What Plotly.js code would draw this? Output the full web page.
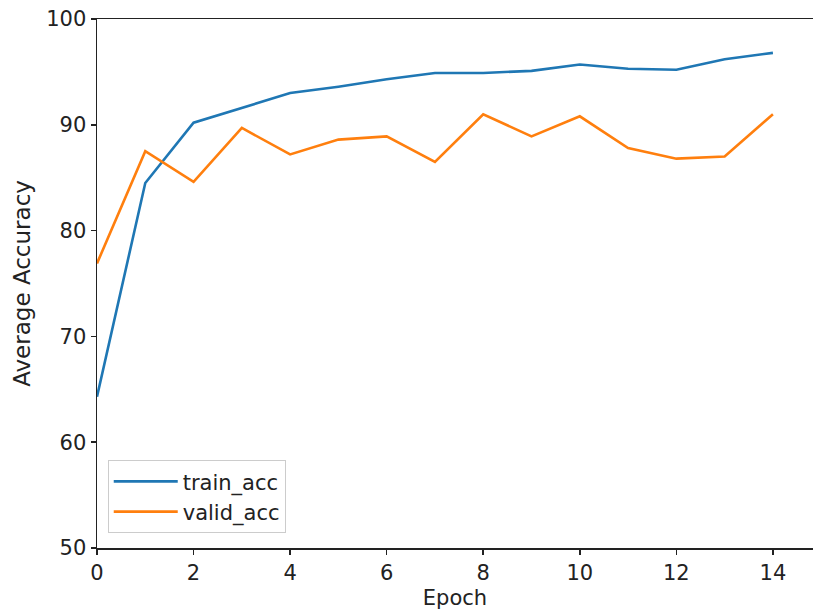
<!DOCTYPE html>
<html>
<head>
<meta charset="utf-8">
<script src="https://cdn.plot.ly/plotly-3.0.1.min.js"></script>
<style>
  html, body { margin: 0; padding: 0; background: #fff; }
  #chart { width: 813px; height: 612px; }
</style>
</head>
<body>
<div id="chart"></div>
<script>
// Per-epoch accuracy (%) for training and validation
const epochs = [0, 1, 2, 3, 4, 5, 6, 7, 8, 9, 10, 11, 12, 13, 14];
const trainAcc = [64.3, 84.5, 90.2, 91.6, 93.0, 93.6, 94.3, 94.9, 94.9, 95.1, 95.7, 95.3, 95.2, 96.2, 96.8];
const validAcc = [76.9, 87.5, 84.6, 89.7, 87.2, 88.6, 88.9, 86.5, 91.0, 88.9, 90.8, 87.8, 86.8, 87.0, 91.0];
const xTicks = [0, 2, 4, 6, 8, 10, 12, 14];
const yTicks = [50, 60, 70, 80, 90, 100];

const font = { family: 'DejaVu Sans, sans-serif', size: 21, color: '#222' };

const traces = [
  {
    x: epochs, y: trainAcc, name: 'train_acc', type: 'scatter', mode: 'lines',
    line: { color: '#1f77b4', width: 2.6 }
  },
  {
    x: epochs, y: validAcc, name: 'valid_acc', type: 'scatter', mode: 'lines',
    line: { color: '#ff7f0e', width: 2.6 }
  }
];

const layout = {
  width: 813, height: 612,
  margin: { l: 97, r: 0, t: 19, b: 64 },
  paper_bgcolor: '#fff', plot_bgcolor: '#fff',
  font: font,
  showlegend: true,
  legend: {
    x: 0.015, y: 0.166, xanchor: 'left', yanchor: 'top',
    bgcolor: 'rgba(255,255,255,0.8)', bordercolor: '#cccccc', borderwidth: 1,
    font: font, itemwidth: 64, tracegroupgap: 0
  },
  xaxis: {
    range: [0, 14.83], tickvals: xTicks, ticktext: xTicks.map(String),
    showgrid: false, zeroline: false,
    showline: true, linecolor: '#222', linewidth: 1.5, mirror: true,
    ticks: 'outside', ticklen: 5, tickwidth: 1.5, tickcolor: '#222',
    tickfont: font,
    title: { text: 'Epoch', font: font, standoff: 6 }
  },
  yaxis: {
    range: [50, 100], tickvals: yTicks, ticktext: yTicks.map(String),
    showgrid: false, zeroline: false,
    showline: true, linecolor: '#222', linewidth: 1.5,
    ticks: 'outside', ticklen: 5, tickwidth: 1.5, tickcolor: '#222',
    tickfont: font,
    title: { text: 'Average Accuracy', font: Object.assign({}, font, { size: 23 }), standoff: 9 }
  }
};

Plotly.newPlot('chart', traces, layout, { displayModeBar: false, staticPlot: true });
</script>
</body>
</html>
